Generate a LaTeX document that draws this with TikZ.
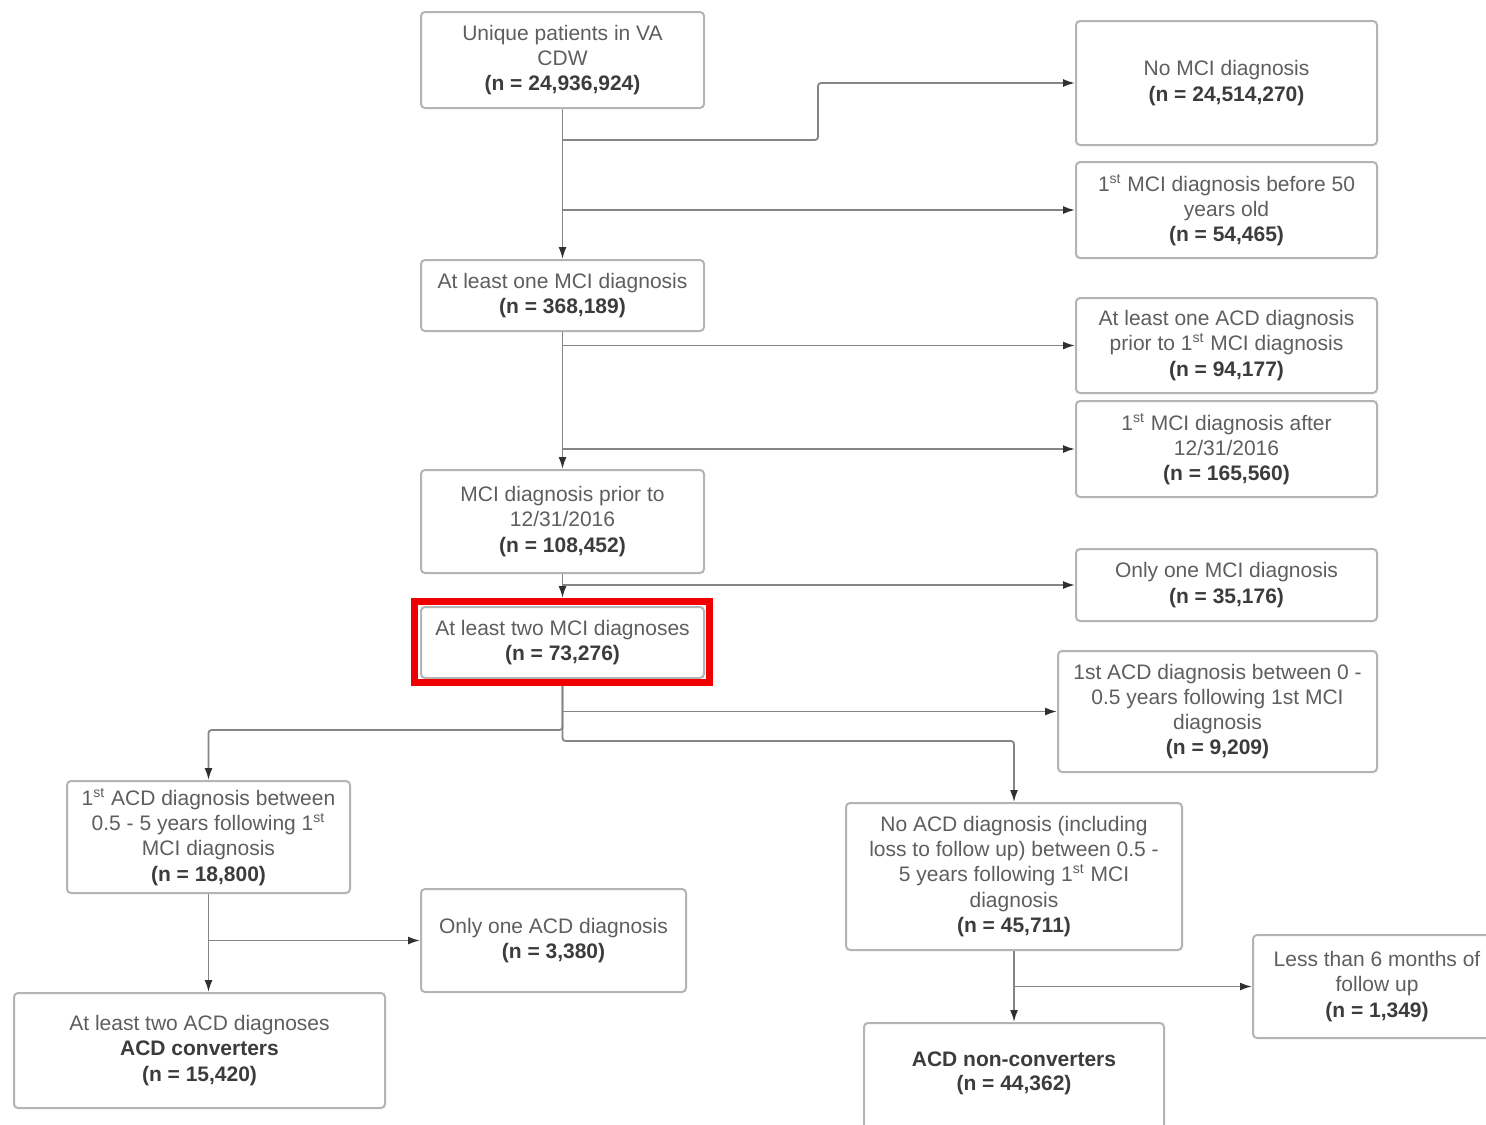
\documentclass[tikz,border=0pt]{standalone}
\usepackage{fontspec}
\setmainfont{Liberation Sans}
\usetikzlibrary{arrows.meta}
\definecolor{txt}{HTML}{5E5E5E}
\definecolor{num}{HTML}{3C3C3C}
\definecolor{edge}{HTML}{B4B4B4}
\definecolor{wire}{HTML}{858585}
\definecolor{tip}{HTML}{303030}
\definecolor{hilite}{HTML}{F00000}
\newcommand\nn[1]{{\bfseries\color{num}#1}}
\newcommand\sth{\textsuperscript{\scriptsize st}}
\tikzset{
  box/.style={draw=edge, line width=1pt, rounded corners=2pt, fill=white,
    align=center, inner sep=0pt, text=txt,
    font=\fontsize{10.5}{12.6}\selectfont},
  wireline/.style={draw=wire, line width=0.9pt, rounded corners=1.5pt},
  arr/.style={wireline, -{Latex[length=6pt,width=4pt,color=tip]}},
  frame/.style={draw=hilite, line width=3.5pt},
}
\begin{document}
\begin{tikzpicture}[x=0.5pt, y=-0.5pt]
\clip (0,0) rectangle (1486,1124);
\fill[white] (0,0) rectangle (1486,1124);

% main column
\node[box, minimum width=141.5pt, minimum height=48pt] (unique) at (562.5,60)
  {Unique patients in VA\\CDW\\\nn{(n = 24,936,924)}};
\node[box, minimum width=141.5pt, minimum height=35.5pt] (onemci) at (562.5,295.5)
  {At least one MCI diagnosis\\\nn{(n = 368,189)}};
\node[box, minimum width=141.5pt, minimum height=51.5pt] (prior2016) at (562.5,521.5)
  {MCI diagnosis prior to\\12/31/2016\\\nn{(n = 108,452)}};
\node[box, minimum width=141.5pt, minimum height=35.5pt] (twomci) at (562.5,642.5)
  {At least two MCI diagnoses\\\nn{(n = 73,276)}};

% exclusions on the right
\node[box, minimum width=150.5pt, minimum height=62pt] (nomci) at (1226.5,83)
  {No MCI diagnosis\\\nn{(n = 24,514,270)}};
\node[box, minimum width=150.5pt, minimum height=48pt] (before50) at (1226.5,210)
  {1\sth{} MCI diagnosis before 50\\years old\\\nn{(n = 54,465)}};
\node[box, minimum width=150.5pt, minimum height=47.5pt] (acdprior) at (1226.5,345.5)
  {At least one ACD diagnosis\\prior to 1\sth{} MCI diagnosis\\\nn{(n = 94,177)}};
\node[box, minimum width=150.5pt, minimum height=48pt] (after2016) at (1226.5,449)
  {1\sth{} MCI diagnosis after\\12/31/2016\\\nn{(n = 165,560)}};
\node[box, minimum width=150.5pt, minimum height=36pt] (onlyonemci) at (1226.5,585)
  {Only one MCI diagnosis\\\nn{(n = 35,176)}};
\node[box, minimum width=159.5pt, minimum height=60.5pt] (acd005) at (1217.5,711.5)
  {1st ACD diagnosis between 0 -\\0.5 years following 1st MCI\\diagnosis\\\nn{(n = 9,209)}};

% converter branch
\node[box, minimum width=141.5pt, minimum height=56pt] (acd055) at (208.5,837)
  {1\sth{} ACD diagnosis between\\0.5 - 5 years following 1\sth\\MCI diagnosis\\\nn{(n = 18,800)}};
\node[box, minimum width=132.5pt, minimum height=51.5pt] (onlyoneacd) at (553.5,940.5)
  {Only one ACD diagnosis\\\nn{(n = 3,380)}};
\node[box, minimum width=185.5pt, minimum height=57.5pt] (twoacd) at (199.5,1050.5)
  {At least two ACD diagnoses\\\nn{ACD converters}\\\nn{(n = 15,420)}};

% non-converter branch
\node[box, minimum width=168pt, minimum height=73.5pt] (noacd) at (1014,876.5)
  {No ACD diagnosis (including\\loss to follow up) between 0.5 -\\5 years following 1\sth{} MCI\\diagnosis\\\nn{(n = 45,711)}};
\node[box, minimum width=124pt, minimum height=51.5pt] (less6) at (1377,986.5)
  {Less than 6 months of\\follow up\\\nn{(n = 1,349)}};
\node[box, minimum width=150pt, minimum height=54pt, text depth=0pt] (noncon) at (1014,1077)
  {\raisebox{6pt}{\shortstack{\nn{ACD non-converters}\\[1pt]\nn{(n = 44,362)}}}};

% connectors
\coordinate (j1) at (562.5,140);
\draw[arr] (unique.south) -- (onemci.north);
\draw[arr] (j1) -- ++(255.5,0) |- (nomci.west);
\draw[arr] (unique.south |- before50.west) -- (before50.west);

\draw[arr] (onemci.south) -- (prior2016.north);
\draw[arr] (onemci.south |- acdprior.west) -- (acdprior.west);
\draw[arr] (onemci.south |- after2016.west) -- (after2016.west);

\draw[arr] (prior2016.south) -- ([yshift=4pt]twomci.north);
\draw[arr] (prior2016.south |- onlyonemci.west) -- (onlyonemci.west);

\coordinate (j2) at (562.5,730);
\coordinate (j3) at (562.5,741);
\draw[arr] (twomci.south) -- (j2) -| (acd055.north);
\draw[arr] (twomci.south) -- (j3) -| (noacd.north);
\draw[arr] (twomci.south |- acd005.west) -- (acd005.west);

\draw[arr] (acd055.south) -- (acd055.south |- twoacd.north);
\draw[arr] (acd055.south |- onlyoneacd.west) -- (onlyoneacd.west);

\draw[arr] (noacd.south) -- (noncon.north);
\draw[arr] (noacd.south |- less6.west) -- (less6.west);

% highlight frame around the two-diagnoses box
\draw[frame] ([shift={(-5.5,3.5)}]twomci.south west)
  rectangle ([shift={(4.5,-4.5)}]twomci.north east);
\end{tikzpicture}
\end{document}
